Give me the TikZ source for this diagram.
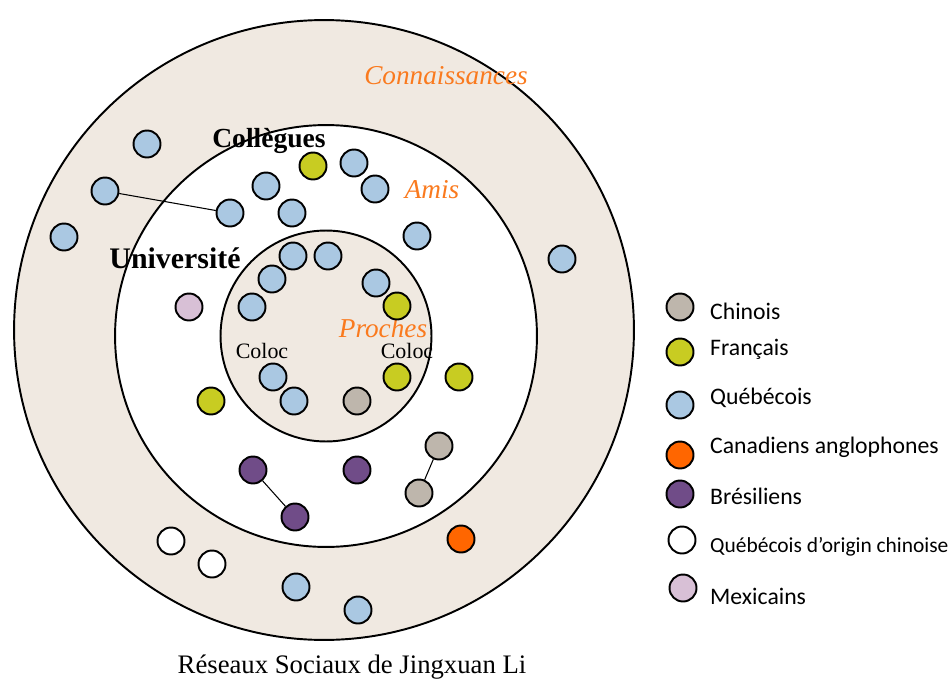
\documentclass[tikz,border=0pt]{standalone}
\usepackage{fontspec}
\setmainfont{Liberation Serif}
\newfontfamily\legendfont{Carlito}
\usetikzlibrary{positioning}

\definecolor{quebec}{RGB}{170,200,226}
\definecolor{france}{RGB}{200,204,34}
\definecolor{chine}{RGB}{190,182,172}
\definecolor{canada}{RGB}{255,102,0}
\definecolor{bresil}{RGB}{112,76,136}
\definecolor{mexique}{RGB}{216,192,214}
\definecolor{ring}{RGB}{240,233,225}
\definecolor{circlelabel}{RGB}{250,122,30}

\begin{document}
\begin{tikzpicture}[x=0.02cm, y=-0.02cm, link/.style = {line width=0.6pt}]
		\tikzset{person/.style={circle, draw=black, line width=1.1pt, minimum size=0.54cm, inner sep=0pt}}
		\tikzset{zone/.style={draw=black, line width=1.1pt}}

		\useasboundingbox (0,0) rectangle (949,686);

		% Circles
		\coordinate (OUTER) at (324,330);
		\coordinate (CENTER) at (326,336);
		\draw[zone, fill=ring] (OUTER) circle (6.2cm);
		\draw[zone, fill=white] (CENTER) circle (4.22cm);
		\draw[zone, fill=ring] (CENTER) circle (2.11cm);

		% Circle labels
		\node[font=\itshape\fontsize{15.5}{18}\selectfont, text=circlelabel] (connaissances) at (446,76) {Connaissances};
		\node[font=\bfseries\fontsize{15.7}{18}\selectfont] (collegues) at (269,141) {Collègues};
		\node[font=\itshape\fontsize{15.5}{18}\selectfont, text=circlelabel] (amis) at (432,190) {Amis};
		\node[font=\bfseries\fontsize{17}{20}\selectfont] (universite) at (175,258) {Université};
		\node[font=\itshape\fontsize{15.5}{18}\selectfont, text=circlelabel] (proches) at (383,328) {Proches};
		\node[font=\fontsize{12.5}{15}\selectfont] (coloc1) at (262,351) {Coloc};
		\node[font=\fontsize{12.5}{15}\selectfont] (coloc2) at (407,351) {Coloc};

		% Quebecois
		\node[person, fill=quebec] (qc1) at (147,144) {};
		\node[person, fill=quebec] (qc2) at (105,191) {};
		\node[person, fill=quebec] (qc3) at (64,237) {};
		\node[person, fill=quebec] (qc4) at (266,186) {};
		\node[person, fill=quebec] (qc5) at (230,213) {};
		\node[person, fill=quebec] (qc6) at (292,213) {};
		\node[person, fill=quebec] (qc7) at (354,163) {};
		\node[person, fill=quebec] (qc8) at (375,189) {};
		\node[person, fill=quebec] (qc9) at (417,236) {};
		\node[person, fill=quebec] (qc10) at (562,259) {};
		\node[person, fill=quebec] (qc11) at (293,256) {};
		\node[person, fill=quebec] (qc12) at (328,256) {};
		\node[person, fill=quebec] (qc13) at (272,279) {};
		\node[person, fill=quebec] (qc14) at (252,307) {};
		\node[person, fill=quebec] (qc15) at (376,283) {};
		\node[person, fill=quebec] (qc16) at (273,377) {};
		\node[person, fill=quebec] (qc17) at (294,401) {};
		\node[person, fill=quebec] (qc18) at (296,587) {};
		\node[person, fill=quebec] (qc19) at (358,610) {};

		% Francais
		\node[person, fill=france] (fr1) at (313,166) {};
		\node[person, fill=france] (fr2) at (397,306) {};
		\node[person, fill=france] (fr3) at (397,377) {};
		\node[person, fill=france] (fr4) at (459,377) {};
		\node[person, fill=france] (fr5) at (211,401) {};

		% Chinois
		\node[person, fill=chine] (ch1) at (357,401) {};
		\node[person, fill=chine] (ch2) at (439,446) {};
		\node[person, fill=chine] (ch3) at (419,493) {};

		% Bresiliens
		\node[person, fill=bresil] (br1) at (253,470) {};
		\node[person, fill=bresil] (br2) at (295,517) {};
		\node[person, fill=bresil] (br3) at (357,470) {};

		% Others
		\node[person, fill=mexique] (mx1) at (189,307) {};
		\node[person, fill=canada] (an1) at (461,539) {};
		\node[person, fill=white] (qcc1) at (171,541) {};
		\node[person, fill=white] (qcc2) at (212,564) {};

		% Links
		\draw [link] (qc2) -- (qc5);
		\draw [link] (br1) -- (br2);
		\draw [link] (ch2) -- (ch3);

		% Caption
		\node[font=\fontsize{15.2}{18}\selectfont] (caption) at (352,667) {Réseaux Sociaux de Jingxuan Li};

		% Legend
		\node[person, fill=chine] (lchinois) at (680,307) {};
		\node[person, fill=france] (lfrancais) at (680,352) {};
		\node[person, fill=quebec] (lquebecois) at (680,405) {};
		\node[person, fill=canada] (lcanadiens) at (680,455) {};
		\node[person, fill=bresil] (lbresiliens) at (680,494) {};
		\node[person, fill=white] (lorigine) at (682,540) {};
		\node[person, fill=mexique] (lmexicains) at (683,588) {};

		\node[anchor=west, font=\legendfont\fontsize{13.5}{15}\selectfont] at (704,311) (tchinois) {Chinois};
		\node[anchor=west, font=\legendfont\fontsize{13.5}{15}\selectfont] at (704,349) (tfrancais) {Français};
		\node[anchor=west, font=\legendfont\fontsize{13.5}{15}\selectfont] at (704,398) (tquebecois) {Québécois};
		\node[anchor=west, font=\legendfont\fontsize{13.5}{15}\selectfont] at (704,447) (tcanadiens) {Canadiens anglophones};
		\node[anchor=west, font=\legendfont\fontsize{13.5}{15}\selectfont] at (704,496) (tbresiliens) {Brésiliens};
		\node[anchor=west, font=\legendfont\fontsize{12.2}{15}\selectfont] at (704,547) (torigine) {Québécois d’origin chinoise};
		\node[anchor=west, font=\legendfont\fontsize{13.5}{15}\selectfont] at (704,596) (tmexicains) {Mexicains};

	\end{tikzpicture}
\end{document}
